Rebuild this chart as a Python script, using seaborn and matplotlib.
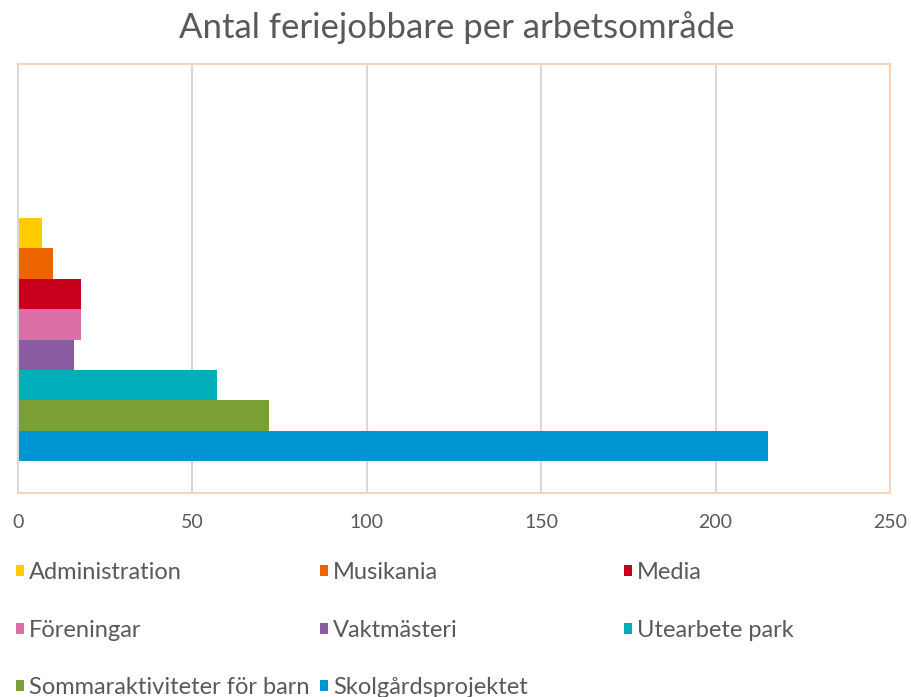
import pandas as pd
import matplotlib.pyplot as plt
import seaborn as sns
from matplotlib.patches import Patch

# data
omraden = ['Administration', 'Musikania', 'Media', 'Föreningar', 'Vaktmästeri',
           'Utearbete park', 'Sommaraktiviteter för barn', 'Skolgårdsprojektet']
antal = [7, 10, 18, 18, 16, 57, 72, 215]
farger = ['#ffcc00', '#ec6500', '#c8001e', '#dc6fa8', '#8c5ca3',
          '#00adb9', '#7aa035', '#0096d5']
xticks = [0, 50, 100, 150, 200, 250]

df = pd.DataFrame({'Grupp': [''] * len(omraden), 'Område': omraden, 'Antal': antal})

sns.set_style('white')
plt.rcParams['font.family'] = ['Lato', 'DejaVu Sans']
textfarg = '#595959'

fig = plt.figure(figsize=(9.11, 6.97), dpi=100)
ax = fig.add_axes([18 / 911, 1 - 493 / 697, (890 - 18) / 911, (493 - 64) / 697])

sns.barplot(data=df, y='Grupp', x='Antal', hue='Område', hue_order=omraden,
            palette=farger, orient='h', width=0.8, saturation=1, legend=False,
            linewidth=0, ax=ax)

ax.set_xlim(0, 250)
ax.set_ylim(0.505, -0.907)
ax.set_xticks(xticks)
ax.set_xticklabels([str(t) for t in xticks], color=textfarg, fontsize=14)
ax.tick_params(axis='x', length=0, pad=15)
ax.set_yticks([])
ax.set_xlabel('')
ax.set_ylabel('')
ax.xaxis.grid(True, color='#d9d9d9', linewidth=1.5)
ax.set_axisbelow(True)
for side in ['top', 'right', 'bottom']:
    ax.spines[side].set_color('#f9d3b5')
    ax.spines[side].set_linewidth(1.5)
ax.spines['left'].set_color('#d9d9d9')
ax.spines['left'].set_linewidth(1.5)

fig.suptitle('Antal feriejobbare per arbetsområde', x=457 / 911, y=1 - 28 / 697,
             va='center', fontsize=25, color=textfarg)

# legend in three columns, like excel
handles = [Patch(facecolor=c, edgecolor='none') for c in farger]
kol_x = [16, 320, 624]
for j in range(3):
    leg = fig.legend(handles[j::3], omraden[j::3], loc='upper left',
                     bbox_to_anchor=(kol_x[j] / 911, 1 - 562 / 697),
                     frameon=False, fontsize=17, labelcolor=textfarg,
                     handlelength=0.34, handleheight=0.34, handletextpad=0.2,
                     labelspacing=1.55, borderpad=0, borderaxespad=0)

plt.savefig('out.png', dpi=100)
plt.close()
